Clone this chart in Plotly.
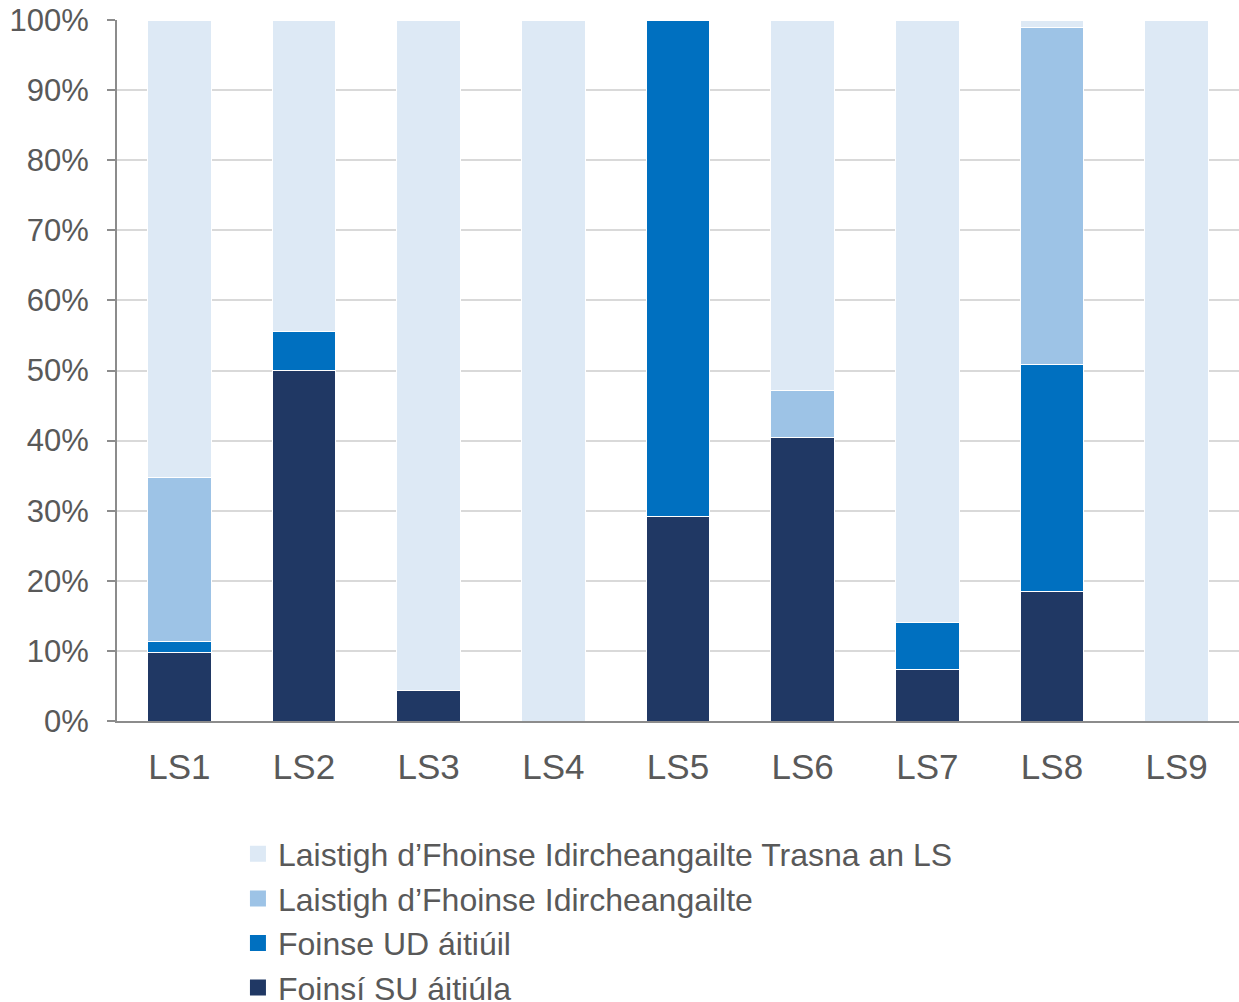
import plotly.graph_objects as go

categories = ["LS1", "LS2", "LS3", "LS4", "LS5", "LS6", "LS7", "LS8", "LS9"]
foinsi_su = [9.8, 50.0, 4.4, 0, 29.2, 40.4, 7.3, 18.5, 0]
foinse_ud = [1.5, 5.6, 0, 0, 70.8, 0, 6.8, 32.4, 0]
laistigh = [23.5, 0, 0, 0, 0, 6.7, 0, 48.1, 0]
laistigh_trasna = [65.2, 44.4, 95.6, 100, 0, 52.9, 85.9, 1.0, 100]

series = [
    ("Foinsí SU áitiúla", foinsi_su, "#203864"),
    ("Foinse UD áitiúil", foinse_ud, "#0070C0"),
    ("Laistigh d’Fhoinse Idircheangailte", laistigh, "#9DC3E6"),
    ("Laistigh d’Fhoinse Idircheangailte Trasna an LS", laistigh_trasna, "#DDE9F5"),
]

fig = go.Figure()
n = len(series)
for i, (name, vals, col) in enumerate(series):
    fig.add_trace(go.Bar(
        x=categories, y=vals, name=name, showlegend=False,
        marker=dict(color=col, line=dict(color="white", width=1)),
    ))
# legend entries with larger square swatches
for i, (name, vals, col) in enumerate(series):
    fig.add_trace(go.Scatter(
        x=[None], y=[None], mode="markers", name=name,
        marker=dict(symbol="square", size=16, color=col),
        legendrank=n - i, hoverinfo="skip",
    ))

font_color = "#595959"
fig.update_layout(
    width=1239, height=1002,
    barmode="stack", bargap=0.487,
    paper_bgcolor="white", plot_bgcolor="white",
    margin=dict(l=117, r=0, t=20, b=281, autoexpand=False),
    font=dict(family="Liberation Sans, Arial, sans-serif", color=font_color),
    showlegend=True,
    legend=dict(
        traceorder="normal",
        x=0.1078, xanchor="left", y=-0.1505, yanchor="top",
        font=dict(size=32, color=font_color),
        itemwidth=30, bgcolor="rgba(0,0,0,0)",
    ),
    xaxis=dict(
        showline=True, linecolor="#8C8C8C", linewidth=2,
        tickfont=dict(size=35, color=font_color),
        ticks="", showgrid=False, ticklabelstandoff=14,
    ),
    yaxis=dict(
        range=[0, 100], dtick=10, ticksuffix="%",
        showline=True, linecolor="#8C8C8C", linewidth=2,
        ticks="outside", ticklen=8, tickcolor="#8C8C8C", tickwidth=2,
        gridcolor="#D9D9D9", gridwidth=1.5,
        tickfont=dict(size=31, color=font_color),
        zeroline=False, ticklabelstandoff=12, ticklabeloverflow="allow",
    ),
)

fig.write_html(
    "out.html",
    config={"displayModeBar": False},
    post_script="document.body.style.margin='0';",
)
